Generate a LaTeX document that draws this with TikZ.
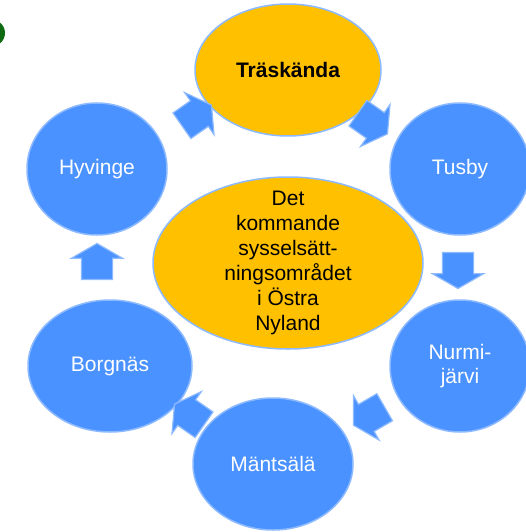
\documentclass[tikz,border=0pt]{standalone}
\usepackage{fontspec}
\setmainfont{Liberation Sans}
\usetikzlibrary{shapes.geometric,shapes.arrows}
\definecolor{cityblue}{HTML}{4A92FF}
\definecolor{rimblue}{HTML}{8DBAFF}
\definecolor{gold}{HTML}{FFC000}
\definecolor{leaf}{HTML}{0E6B12}
\tikzset{
  town/.style={ellipse, fill=cityblue, draw=rimblue, line width=1.5pt, inner sep=0pt,
    text=white, align=center, font=\fontsize{21}{24}\selectfont,
    minimum width=140pt, minimum height=132pt},
  hub/.style={ellipse, fill=gold, draw=rimblue, line width=1.5pt, inner sep=0pt},
  hubtxt/.style={text=black, align=center, font=\fontsize{21}{25}\selectfont},
  flow/.style={single arrow, fill=cityblue, draw=rimblue, line width=1.2pt,
    inner xsep=0pt, inner ysep=15pt, minimum height=36pt,
    single arrow head extend=10pt, single arrow tip angle=120}
}

\begin{document}
\begin{tikzpicture}[x=1pt, y=-1pt]
  \useasboundingbox (0,0) rectangle (526,532);
  \fill[white] (0,0) rectangle (526,532);
  \clip (0,0) rectangle (526,532);

  \node[ellipse, fill=leaf, inner sep=0pt, minimum width=30pt, minimum height=28pt] (knob) at (-10,33) {};

  % ring of towns
  \node[hub, minimum width=186pt, minimum height=132pt, font=\fontsize{21}{24}\selectfont\bfseries] (trask) at (288,70) {Träskända};
  \node[town] (tusby) at (460,169) {Tusby};
  \node[town] (nurmi) at (460,366) {Nurmi-\\järvi};
  \node[town, minimum width=160pt] (mants) at (273,464) {Mäntsälä};
  \node[town, minimum width=164pt] (borg) at (110,366) {Borgnäs};
  \node[town] (hyv) at (97,169) {Hyvinge};

  \node[hub, minimum width=270pt, minimum height=172pt] (core) at (288,263) {};
  \node[hubtxt] (coretxt) at (core) {Det\\kommande\\sysselsätt-\\ningsområdet\\i Östra\\Nyland};

  % block arrows between the towns
  \node[flow, rotate=35] (f1) at (193,118) {};
  \node[flow, rotate=-35] (f2) at (369,121) {};
  \node[flow, rotate=-90] (f3) at (458,266) {};
  \node[flow, rotate=-150] (f4) at (373,414) {};
  \node[flow, rotate=145] (f5) at (193,417) {};
  \node[flow, rotate=90] (f6) at (97,266) {};
\end{tikzpicture}
\end{document}
